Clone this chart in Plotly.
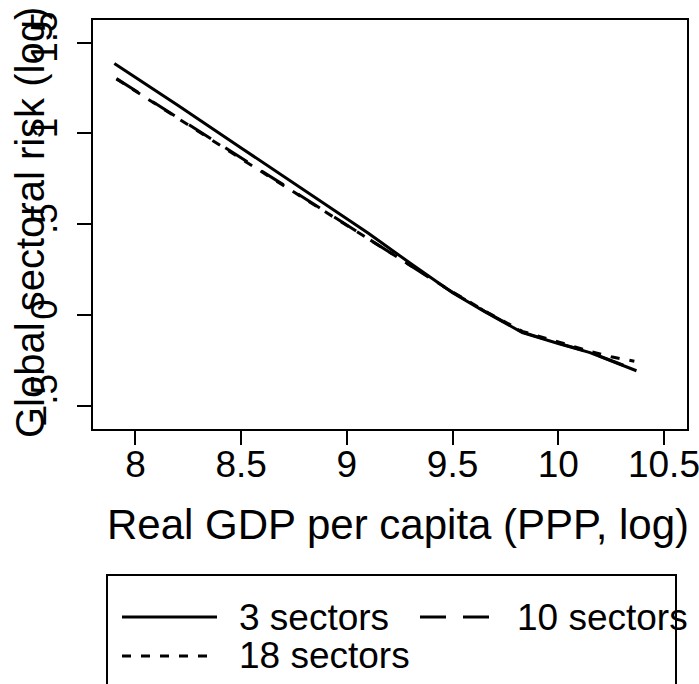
import plotly.graph_objects as go

# ---- data ----
x_3 = [7.90, 8.20, 8.50, 8.80, 9.10, 9.30, 9.50, 9.65, 9.83, 10.00, 10.15, 10.37]
y_3 = [1.385, 1.155, 0.920, 0.686, 0.452, 0.285, 0.123, 0.020, -0.097, -0.157, -0.207, -0.307]

x_10 = [7.91, 8.20, 8.50, 8.80, 9.10, 9.30, 9.50, 9.65, 9.83, 10.00, 10.15, 10.37]
y_10 = [1.302, 1.087, 0.864, 0.642, 0.419, 0.275, 0.125, 0.022, -0.094, -0.155, -0.205, -0.305]

x_18 = [7.91, 8.20, 8.50, 8.80, 9.10, 9.30, 9.50, 9.65, 9.83, 10.00, 10.15, 10.25, 10.36]
y_18 = [1.300, 1.083, 0.860, 0.640, 0.420, 0.278, 0.127, 0.024, -0.090, -0.148, -0.200, -0.230, -0.255]

series_names = ["3 sectors", "10 sectors", "18 sectors"]
x_tickvals = [8, 8.5, 9, 9.5, 10, 10.5]
x_ticktext = ["8", "8.5", "9", "9.5", "10", "10.5"]
y_tickvals = [-0.5, 0, 0.5, 1, 1.5]
y_ticktext = ["\u2212.5", "0", ".5", "1", "1.5"]
x_title = "Real GDP per capita (PPP, log)"
y_title = "Global sectoral risk (log)"

# ---- styling ----
W, H = 699, 684
ML, MR, MT, MB = 93, 12, 20, 255
PW, PH = W - ML - MR, H - MT - MB
FONT = "Liberation Sans, Arial, Helvetica, sans-serif"
DASH_10 = "26px,17px"
DASH_18 = "9px,10px"
LW = 3


def px(xpix):
    return (xpix - ML) / PW


def py(ypix):
    return (H - MB - ypix) / PH


fig = go.Figure()
fig.add_trace(go.Scatter(x=x_3, y=y_3, mode="lines", name=series_names[0],
                         line=dict(color="black", width=LW), showlegend=False))
fig.add_trace(go.Scatter(x=x_10, y=y_10, mode="lines", name=series_names[1],
                         line=dict(color="black", width=LW, dash=DASH_10), showlegend=False))
fig.add_trace(go.Scatter(x=x_18, y=y_18, mode="lines", name=series_names[2],
                         line=dict(color="black", width=LW, dash=DASH_18), showlegend=False))

axis_common = dict(showgrid=False, zeroline=False, showline=True, linecolor="black",
                   linewidth=2, mirror=True, ticks="outside", ticklen=14, tickwidth=2,
                   tickcolor="black", automargin=False, ticklabeloverflow="allow",
                   tickfont=dict(family=FONT, size=37, color="black"))

fig.update_xaxes(range=[7.799, 10.609], tickvals=x_tickvals, ticktext=x_ticktext,
                 ticklabelstandoff=-12, **axis_common)
fig.update_yaxes(range=[-0.628, 1.625], tickvals=y_tickvals, ticktext=y_ticktext,
                 tickangle=-90, ticklabelstandoff=5, **axis_common)

annotations = [
    dict(text=x_title, xref="paper", yref="paper", x=px(398), y=py(524),
         xanchor="center", yanchor="middle", showarrow=False,
         font=dict(family=FONT, size=42, color="black")),
    dict(text=y_title, xref="paper", yref="paper", x=px(30), y=py(223),
         xanchor="center", yanchor="middle", textangle=-90, showarrow=False,
         font=dict(family=FONT, size=40, color="black")),
]

shapes = [
    # legend box
    dict(type="rect", xref="paper", yref="paper", x0=px(107), x1=px(676),
         y0=py(575), y1=py(720), line=dict(color="black", width=2), fillcolor="rgba(0,0,0,0)"),
    dict(type="line", xref="paper", yref="paper", x0=px(122), x1=px(217),
         y0=py(617), y1=py(617), line=dict(color="black", width=LW)),
    dict(type="line", xref="paper", yref="paper", x0=px(420), x1=px(489),
         y0=py(617), y1=py(617), line=dict(color="black", width=LW, dash=DASH_10)),
    dict(type="line", xref="paper", yref="paper", x0=px(122), x1=px(211),
         y0=py(656), y1=py(656), line=dict(color="black", width=LW, dash=DASH_18)),
]

legend_labels = [(series_names[0], 237, 617), (series_names[1], 515, 617), (series_names[2], 237, 656)]
for label, lx, ly in legend_labels:
    annotations.append(dict(text=label, xref="paper", yref="paper", x=px(lx), y=py(ly),
                            xanchor="left", yanchor="middle", showarrow=False,
                            font=dict(family=FONT, size=37, color="black")))

fig.update_layout(width=W, height=H, margin=dict(l=ML, r=MR, t=MT, b=MB, autoexpand=False),
                  paper_bgcolor="white", plot_bgcolor="white",
                  showlegend=False, annotations=annotations, shapes=shapes)

fig.write_html("out.html", config={"displayModeBar": False},
               post_script="document.body.style.margin='0';document.body.style.overflow='hidden';")
